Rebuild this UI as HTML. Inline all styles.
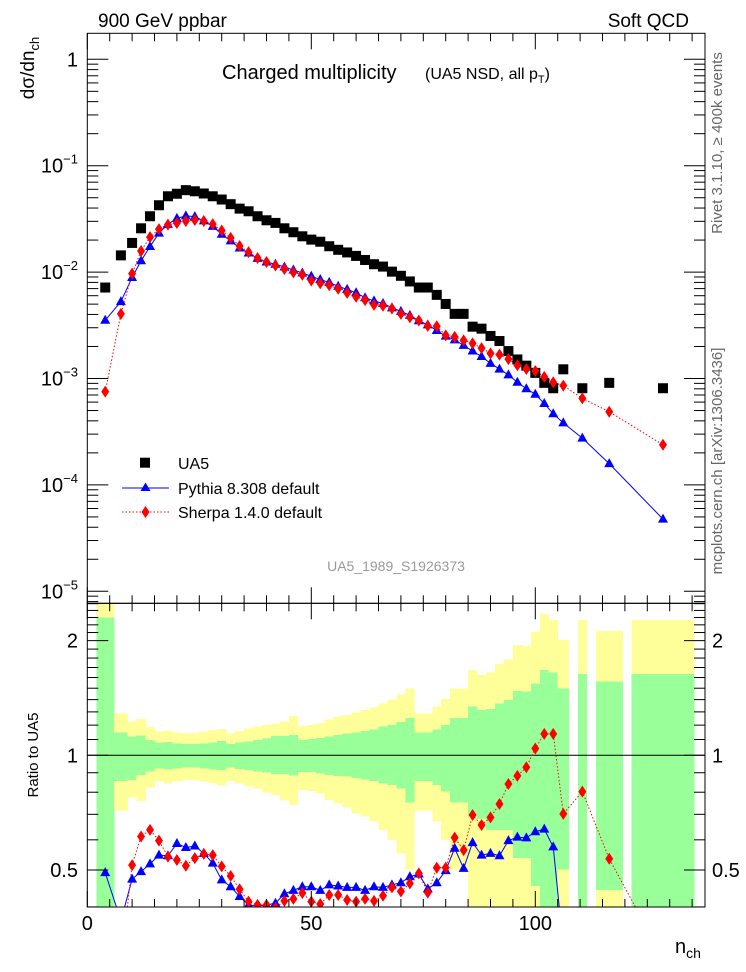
<!DOCTYPE html>
<html><head><meta charset="utf-8"><title>Charged multiplicity</title>
<style>
html,body{margin:0;padding:0;background:#fff;width:746px;height:972px;overflow:hidden;}
svg{display:block;font-family:"Liberation Sans",Arial,sans-serif;}
</style></head>
<body>
<svg id="chart" xmlns="http://www.w3.org/2000/svg" width="746" height="972" viewBox="0 0 746 972" overflow="hidden">
  <defs>
    <clipPath id="clipMain"><rect x="87.3" y="33.3" width="617.7" height="570"/></clipPath>
    <clipPath id="clipRatio"><rect x="87.3" y="603.3" width="617.7" height="303.7"/></clipPath>
  </defs>
  <rect x="0" y="0" width="746" height="972" fill="#fff"/>
  <g id="bands" clip-path="url(#clipRatio)" shape-rendering="crispEdges"></g>
  <line x1="87.3" x2="705" y1="755.3" y2="755.3" stroke="#000" stroke-width="1"/>
  <g id="ratioSeries" clip-path="url(#clipRatio)"></g>
  <g id="mainSeries" clip-path="url(#clipMain)"></g>
  <g id="axes"></g>

  <text x="98" y="27" font-size="19">900 GeV ppbar</text>
  <text x="689" y="27" font-size="19" text-anchor="end">Soft QCD</text>
  <text transform="translate(34,68) rotate(-90)" font-size="19" text-anchor="middle">dσ/dn<tspan font-size="13" dy="5">ch</tspan></text>
  <text x="222" y="79" font-size="20">Charged multiplicity</text>
  <text x="425" y="79" font-size="16">(UA5 NSD, all p<tspan font-size="11" dy="4">T</tspan><tspan dy="-4">)</tspan></text>
  <text transform="translate(722,143) rotate(-90)" font-size="15" fill="#666" text-anchor="middle">Rivet 3.1.10, ≥ 400k events</text>
  <text transform="translate(722,461) rotate(-90)" font-size="15" fill="#666" text-anchor="middle">mcplots.cern.ch [arXiv:1306.3436]</text>
  <text x="396" y="571" font-size="14" fill="#999" text-anchor="middle">UA5_1989_S1926373</text>
  <text transform="translate(38,755) rotate(-90)" font-size="15" text-anchor="middle">Ratio to UA5</text>
  <text x="675" y="953" font-size="20">n<tspan font-size="14" dy="5">ch</tspan></text>

  <g id="legend">
    <g>
      <rect x="140" y="457.7" width="10" height="10" fill="#000"/>
      <text x="178" y="469" font-size="16">UA5</text>
    </g>
    <g>
      <line x1="122" x2="169" y1="488" y2="488" stroke="#0000ff" stroke-width="1"/>
      <polygon points="145.5,482.5 140.5,491 150.5,491" fill="#0000ff"/>
      <text x="178" y="494" font-size="16">Pythia 8.308 default</text>
    </g>
    <g>
      <line x1="122" x2="169" y1="512" y2="512" stroke="#ff0000" stroke-width="1" stroke-dasharray="1.5,2"/>
      <polygon points="145.5,506 149.5,512 145.5,518 141.5,512" fill="#ff0000"/>
      <text x="178" y="518" font-size="16">Sherpa 1.4.0 default</text>
    </g>
  </g>
</svg>
<script>
// ---- data ----
const binLo = [2,6,9,11,13,15,17,19,21,23,25,27,29,31,33,35,37,39,41,43,45,47,49,51,53,55,57,59,61,63,65,67,69,71,73,75,77,79,81,83,85,87,89,91,93,95,97,99,101,103,105,109.5,113.5,121.5];
const binHi = [6,9,11,13,15,17,19,21,23,25,27,29,31,33,35,37,39,41,43,45,47,49,51,53,55,57,59,61,63,65,67,69,71,73,75,77,79,81,83,85,87,89,91,93,95,97,99,101,103,105,107.5,111.5,119.5,135.5];
const ua5Values = [0.00716,0.01436,0.0188,0.0258,0.0335,0.0425,0.0516,0.0545,0.0589,0.0575,0.0548,0.0516,0.0481,0.0435,0.0395,0.0373,0.0335,0.0307,0.029,0.0258,0.0237,0.0217,0.0202,0.0193,0.0175,0.0162,0.0153,0.0142,0.0130,0.01186,0.01127,0.0101,0.00923,0.00817,0.00716,0.00716,0.00611,0.00502,0.00405,0.00405,0.00307,0.00294,0.00251,0.00225,0.00181,0.00151,0.00132,0.00113,0.00091,0.00081,0.00122,0.00081,0.00091,0.00081];
const pythiaRatio = [0.492,0.368,0.473,0.495,0.519,0.547,0.545,0.587,0.573,0.578,0.553,0.521,0.471,0.452,0.426,0.405,0.402,0.405,0.409,0.433,0.442,0.452,0.452,0.442,0.457,0.454,0.450,0.450,0.442,0.452,0.450,0.457,0.463,0.480,0.488,0.446,0.463,0.498,0.570,0.505,0.590,0.547,0.553,0.545,0.597,0.610,0.607,0.630,0.640,0.575,0.314,0.340,0.174,0.0589];
const sherpaRatio = [0.105,0.282,0.515,0.612,0.637,0.597,0.542,0.531,0.513,0.537,0.551,0.547,0.511,0.482,0.445,0.413,0.405,0.405,0.398,0.415,0.420,0.435,0.413,0.407,0.430,0.430,0.417,0.413,0.420,0.415,0.428,0.450,0.439,0.461,0.490,0.436,0.507,0.507,0.608,0.564,0.697,0.656,0.687,0.745,0.841,0.883,0.930,1.042,1.138,1.138,0.702,0.803,0.535,0.294];
const yellowUp = [3.0,1.289,1.225,1.245,1.187,1.153,1.160,1.147,1.144,1.144,1.153,1.165,1.172,1.142,1.158,1.175,1.189,1.201,1.213,1.225,1.268,1.194,1.201,1.213,1.243,1.263,1.276,1.294,1.315,1.336,1.369,1.403,1.445,1.499,1.289,1.289,1.341,1.405,1.499,1.499,1.675,1.625,1.648,1.736,1.786,1.948,1.936,2.107,2.35,2.265,2.007,2.265,2.12,2.265];
const greenUp = [2.30,1.147,1.119,1.126,1.097,1.080,1.084,1.075,1.071,1.071,1.075,1.082,1.090,1.071,1.080,1.088,1.097,1.108,1.124,1.124,1.131,1.097,1.102,1.110,1.119,1.131,1.142,1.147,1.158,1.170,1.189,1.201,1.223,1.251,1.147,1.147,1.170,1.201,1.251,1.251,1.341,1.315,1.323,1.369,1.397,1.475,1.469,1.545,1.675,1.648,1.499,1.635,1.561,1.635];
const greenDn = [0.2,0.856,0.861,0.888,0.906,0.924,0.919,0.924,0.930,0.928,0.924,0.919,0.915,0.930,0.920,0.915,0.906,0.900,0.893,0.893,0.884,0.904,0.903,0.897,0.888,0.882,0.879,0.873,0.865,0.856,0.844,0.836,0.819,0.751,0.856,0.856,0.836,0.803,0.751,0.751,0.690,0.680,0.637,0.637,0.637,0.537,0.537,0.454,0.3,0.3,0.502,0.3,0.443,0.3];
const yellowDn = [0.2,0.716,0.776,0.759,0.822,0.853,0.844,0.853,0.861,0.861,0.853,0.844,0.832,0.856,0.844,0.827,0.819,0.799,0.787,0.760,0.741,0.811,0.806,0.795,0.763,0.748,0.730,0.704,0.690,0.670,0.637,0.599,0.553,0.502,0.716,0.716,0.670,0.599,0.502,0.502,0.3,0.3,0.3,0.3,0.3,0.3,0.3,0.3,0.3,0.3,0.3,0.3,0.3,0.3];
const xTickMajor = [0,50,100];
const xTickLabels = ["0","50","100"];
const mainDecades = [0,-1,-2,-3,-4,-5];
const ratioLabels = [0.5,1,2];

// ---- axis functions ----
const X0 = 87.3, X1 = 705, YM0 = 33.3, YM1 = 603.3, YR0 = 603.3, YR1 = 907;
const xs = n => 87.3 + n * 4.48;
const ym = v => 59.3 - Math.log10(v) * 106.4;
const yr = r => 755.3 - Math.log10(r) * 381;
const NS = "http://www.w3.org/2000/svg";
function mk(tag, attrs, parent) {
  const e = document.createElementNS(NS, tag);
  for (const k in attrs) e.setAttribute(k, attrs[k]);
  parent.appendChild(e);
  return e;
}
const clampR = y => Math.max(YR0, Math.min(YR1, y));
const inR = y => y >= YR0 - 4 && y <= YR1 + 4;

// clip a polyline to y range, return list of point-lists
function clipY(pts, lo, hi) {
  const out = []; let cur = [];
  const inside = p => p[1] >= lo && p[1] <= hi;
  const cross = (a, b, yc) => [a[0] + (b[0] - a[0]) * (yc - a[1]) / (b[1] - a[1]), yc];
  for (let i = 0; i < pts.length; i++) {
    const p = pts[i];
    if (i === 0) { if (inside(p)) cur.push(p); continue; }
    const a = pts[i - 1];
    const ai = inside(a), pi = inside(p);
    if (ai && pi) { cur.push(p); }
    else if (ai && !pi) { cur.push(cross(a, p, p[1] > hi ? hi : lo)); out.push(cur); cur = []; }
    else if (!ai && pi) { cur = [cross(a, p, a[1] > hi ? hi : lo), p]; }
    else {
      if ((a[1] > hi && p[1] < lo) || (a[1] < lo && p[1] > hi)) {
        out.push([cross(a, p, a[1] > hi ? hi : lo), cross(a, p, p[1] > hi ? hi : lo)]);
      }
    }
  }
  if (cur.length > 1) out.push(cur);
  return out.filter(s => s.length > 1);
}

// ---- bands ----
const bands = document.getElementById('bands');
for (let i = 0; i < binLo.length; i++) {
  const x = xs(binLo[i]), w = xs(binHi[i]) - xs(binLo[i]) + 0.3;
  const ya = clampR(yr(yellowUp[i])), yb = clampR(yr(yellowDn[i]));
  const y = mk('rect', {x: x, y: ya, width: w, height: yb - ya, fill: '#ffff99'}, bands);
  
  
  const ga = clampR(yr(greenUp[i])), gb = clampR(yr(greenDn[i]));
  const g = mk('rect', {x: x, y: ga, width: w, height: gb - ga, fill: '#99ff99'}, bands);
  
  
}

const centers = binLo.map((lo, i) => (lo + binHi[i]) / 2);

function tri(parent, cx, cy, col, name) {
  const p = mk('polygon', {points: `${cx},${cy-5.5} ${cx-5},${cy+3.5} ${cx+5},${cy+3.5}`, fill: col}, parent);
  
  
}
function dia(parent, cx, cy, col, name) {
  const p = mk('polygon', {points: `${cx},${cy-6} ${cx+4},${cy} ${cx},${cy+6} ${cx-4},${cy}`, fill: col}, parent);
  
  
}

// ---- ratio series ----
const rs = document.getElementById('ratioSeries');
clipY(centers.map((c, i) => [xs(c), yr(pythiaRatio[i])]), YR0, YR1).forEach(seg => {
  const l = mk('polyline', {points: seg.map(p => p[0] + ',' + p[1]).join(' '), fill: 'none', stroke: '#0000ff', 'stroke-width': 1}, rs);
  
  
});
clipY(centers.map((c, i) => [xs(c), yr(sherpaRatio[i])]), YR0, YR1).forEach(seg => {
  const l = mk('polyline', {points: seg.map(p => p[0] + ',' + p[1]).join(' '), fill: 'none', stroke: '#ff0000', 'stroke-width': 1, 'stroke-dasharray': '1.5,2'}, rs);
  
  
});
centers.forEach((c, i) => {
  const yp = yr(pythiaRatio[i]), ys = yr(sherpaRatio[i]);
  if (inR(yp)) tri(rs, xs(c), yp, '#0000ff', 'pythia-ratio-point');
  if (inR(ys)) dia(rs, xs(c), ys, '#ff0000', 'sherpa-ratio-point');
});

// ---- main series ----
const ms = document.getElementById('mainSeries');
const pyV = ua5Values.map((v, i) => v * pythiaRatio[i]);
const shV = ua5Values.map((v, i) => v * sherpaRatio[i]);
const pyL = mk('polyline', {points: centers.map((c, i) => xs(c) + ',' + ym(pyV[i])).join(' '), fill: 'none', stroke: '#0000ff', 'stroke-width': 1}, ms);


const shL = mk('polyline', {points: centers.map((c, i) => xs(c) + ',' + ym(shV[i])).join(' '), fill: 'none', stroke: '#ff0000', 'stroke-width': 1, 'stroke-dasharray': '1.5,2'}, ms);


centers.forEach((c, i) => {
  const r = mk('rect', {x: xs(c) - 5, y: ym(ua5Values[i]) - 5, width: 10, height: 10, fill: '#000'}, ms);
  
  
  tri(ms, xs(c), ym(pyV[i]), '#0000ff', 'pythia-point');
  dia(ms, xs(c), ym(shV[i]), '#ff0000', 'sherpa-point');
});

// ---- axes ----
const ax = document.getElementById('axes');
mk('rect', {x: X0, y: YM0, width: X1 - X0, height: YM1 - YM0, fill: 'none', stroke: '#000', 'stroke-width': 1}, ax);
mk('rect', {x: X0, y: YR0, width: X1 - X0, height: YR1 - YR0, fill: 'none', stroke: '#000', 'stroke-width': 1}, ax);
for (let n = 0; n <= 135; n += 5) {
  const x = xs(n), major = n % 50 === 0, L = major ? 16 : 8;
  [[YM0, 1], [YM1, -1], [YR0, 1], [YR1, -1]].forEach(([y, d]) => {
    mk('line', {x1: x, x2: x, y1: y, y2: y + d * L, stroke: '#000', 'stroke-width': 1}, ax);
  });
}
xTickMajor.forEach((n, i) => {
  const t = mk('text', {x: xs(n), y: 930, 'font-size': 20, 'text-anchor': 'middle'}, ax);
  t.textContent = xTickLabels[i];
  
  
});
for (let d = 0; d >= -6; d--) {
  for (let m = 1; m <= 9; m++) {
    const y = ym(m * Math.pow(10, d));
    if (y < YM0 || y > YM1) continue;
    const L = m === 1 ? 21 : 11;
    mk('line', {x1: X0, x2: X0 + L, y1: y, y2: y, stroke: '#000', 'stroke-width': 1}, ax);
    mk('line', {x1: X1, x2: X1 - L, y1: y, y2: y, stroke: '#000', 'stroke-width': 1}, ax);
  }
}
mainDecades.forEach(d => {
  const t = mk('text', {x: 78, y: ym(Math.pow(10, d)) + 7, 'font-size': 20, 'text-anchor': 'end'}, ax);
  
  
  if (d === 0) { t.textContent = '1'; }
  else {
    const a = document.createElementNS(NS, 'tspan'); a.textContent = '10'; t.appendChild(a);
    const b = document.createElementNS(NS, 'tspan'); b.setAttribute('font-size', '13'); b.setAttribute('dy', '-9'); b.textContent = '\u2212' + (-d); t.appendChild(b);
  }
});
for (let k = 4; k <= 25; k++) {
  const r = k / 10, y = yr(r);
  if (y < YR0 || y > YR1) continue;
  const major = (k === 5 || k === 10 || k === 20), L = major ? 21 : 11;
  mk('line', {x1: X0, x2: X0 + L, y1: y, y2: y, stroke: '#000', 'stroke-width': 1}, ax);
  mk('line', {x1: X1, x2: X1 - L, y1: y, y2: y, stroke: '#000', 'stroke-width': 1}, ax);
}
ratioLabels.forEach(r => {
  const t = mk('text', {x: 78, y: yr(r) + 7, 'font-size': 20, 'text-anchor': 'end'}, ax);
  t.textContent = String(r);
  
  
  const t2 = mk('text', {x: 712, y: yr(r) + 7, 'font-size': 20}, ax);
  t2.textContent = String(r);
  
  
});
</script>
</body></html>
